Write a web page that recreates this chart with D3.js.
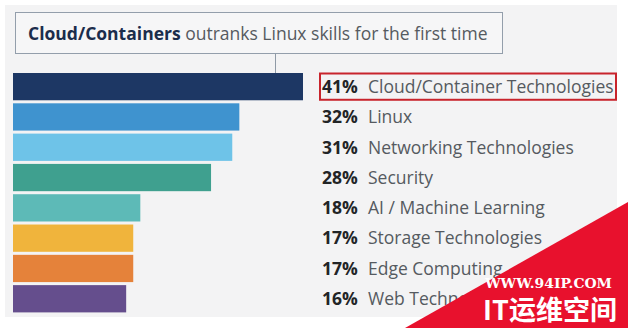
<!DOCTYPE html>
<html>
<head>
<meta charset="utf-8">
<script src="https://cdn.jsdelivr.net/npm/d3@7"></script>
<style>
  html, body { margin: 0; padding: 0; background: #ffffff; }
  svg { display: block; font-family: "Open Sans", "Noto Sans", sans-serif; }
</style>
</head>
<body>
<svg id="chart" width="628" height="328"></svg>
<script>
// Skill categories, ranked
const categories = [
  "Cloud/Container Technologies",
  "Linux",
  "Networking Technologies",
  "Security",
  "AI / Machine Learning",
  "Storage Technologies",
  "Edge Computing",
  "Web Technologies"
];
// Share of respondents (%)
const values = [41, 32, 31, 28, 18, 17, 17, 16];
const barColors = ["#1d3764", "#3f93cf", "#6ec3e8", "#3fa08f", "#5dbab7", "#f0b43c", "#e5823a", "#654e8d"];

const titleBold = "Cloud/Containers";
const titleRest = " outranks Linux skills for the first time";

const svg = d3.select("#chart");

// panel background
svg.append("rect")
  .attr("x", 5).attr("y", 5).attr("width", 612).attr("height", 312)
  .attr("fill", "#f3f3f4");

const x = d3.scaleLinear().domain([0, 41]).range([13, 303]);
const y = d3.scaleBand().domain(categories).range([73, 312.4]).paddingInner(0.1).paddingOuter(0);

// title box
svg.append("rect")
  .attr("x", 15.5).attr("y", 12.5).attr("width", 487).attr("height", 41)
  .attr("fill", "#f6f6f7").attr("stroke", "#939eab").attr("stroke-width", 1);

const title = svg.append("text")
  .attr("x", 28).attr("y", 39.5)
  .attr("font-size", 17.5);
title.append("tspan").attr("font-weight", 700).attr("fill", "#1b2d4c").text(titleBold);
title.append("tspan").attr("fill", "#555a60").text(titleRest);

// connector from title box to the leading bar
svg.append("line")
  .attr("x1", 275.5).attr("x2", 275.5).attr("y1", 53.5).attr("y2", y(categories[0]))
  .attr("stroke", "#8f9aa6").attr("stroke-width", 1);

// bars
svg.append("g").selectAll("rect")
  .data(categories)
  .join("rect")
  .attr("x", x(0))
  .attr("y", d => y(d))
  .attr("width", (d, i) => x(values[i]) - x(0))
  .attr("height", y.bandwidth())
  .attr("fill", (d, i) => barColors[i]);

// labels
const labels = svg.append("g").selectAll("text")
  .data(categories)
  .join("text")
  .attr("y", d => y(d) + y.bandwidth() / 2)
  .attr("dy", "0.36em")
  .attr("font-size", 17.5);
labels.append("tspan")
  .attr("x", 322)
  .attr("font-weight", 700)
  .attr("fill", "#222426")
  .text((d, i) => values[i] + "%");
labels.append("tspan")
  .attr("x", 368)
  .attr("fill", "#555a60")
  .text(d => d);

// highlight box around the top-ranked label
svg.append("rect")
  .attr("x", 320).attr("y", y(categories[0]) + 0.5)
  .attr("width", 296).attr("height", y.bandwidth() - 1)
  .attr("fill", "none").attr("stroke", "#c8242c").attr("stroke-width", 2);

// site badge in the lower-right corner
svg.append("path")
  .attr("d", "M405,328 L628,202 L628,328 Z")
  .attr("fill", "#e8112d");
svg.append("text")
  .attr("x", 485).attr("y", 288)
  .attr("font-family", "'DejaVu Serif', 'Liberation Serif', serif")
  .attr("font-weight", 700).attr("font-size", 12.5)
  .attr("textLength", 127).attr("lengthAdjust", "spacingAndGlyphs")
  .attr("fill", "#ffffff")
  .text("WWW.94IP.COM");
svg.append("text")
  .attr("x", 483).attr("y", 320)
  .attr("font-family", "'Noto Sans CJK SC', sans-serif")
  .attr("font-weight", 700).attr("font-size", 27)
  .attr("textLength", 134).attr("lengthAdjust", "spacing")
  .attr("fill", "#ffffff")
  .text("IT运维空间");
</script>
</body>
</html>
